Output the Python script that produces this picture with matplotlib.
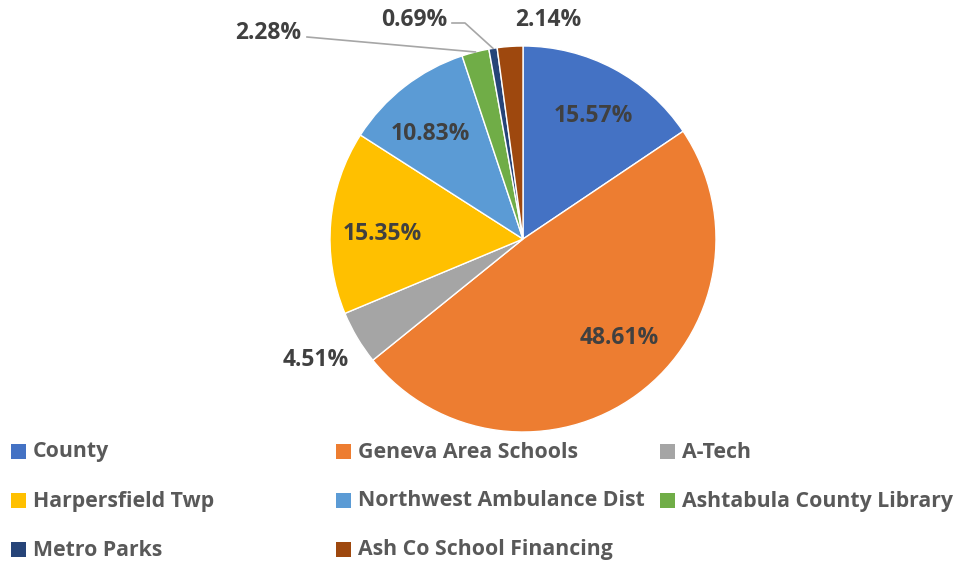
import numpy as np
import matplotlib.pyplot as plt
from matplotlib.patches import Rectangle

# data
categories = ['County', 'Geneva Area Schools', 'A-Tech', 'Harpersfield Twp',
              'Northwest Ambulance Dist', 'Ashtabula County Library',
              'Metro Parks', 'Ash Co School Financing']
shares = [15.57, 48.61, 4.51, 15.35, 10.83, 2.28, 0.69, 2.14]
colors = ['#4472C4', '#ED7D31', '#A5A5A5', '#FFC000',
          '#5B9BD5', '#70AD47', '#264478', '#9E480E']

plt.rcParams['font.family'] = ['Open Sans', 'DejaVu Sans']

W, H = 960, 564
fig = plt.figure(figsize=(W / 100, H / 100), dpi=100)

# pie centre / radius in pixels
cx, cy, r = 523, 239, 193
ax = fig.add_axes([(cx - r) / W, (H - cy - r) / H, 2 * r / W, 2 * r / H])
wedges, _ = ax.pie(shares, colors=colors, startangle=90, counterclock=False,
                   radius=1, wedgeprops=dict(edgecolor='white', linewidth=1))
ax.set_xlim(-1, 1)
ax.set_ylim(-1, 1)
ax.axis('off')

lab_kw = dict(fontsize=16.5, fontweight='bold', color='#404040',
              ha='center', va='center', clip_on=False)

def px(x, y):
    # pixel -> data coords of the pie axes
    return (x - cx) / r, (cy - y) / r

def mid_angle(w):
    return np.deg2rad((w.theta1 + w.theta2) / 2)

# label anchor points (Excel "best fit" placement, in pixels)
label_pos = [(593, 116), (619, 338), (316, 360), (382, 234),
             (430, 134), (268, 33), (414, 20), (548, 20)]
for i, (lx, ly) in enumerate(label_pos):
    ax.text(*px(lx, ly), f'{shares[i]:.2f}%', **lab_kw)

# leader lines for the two thinnest slices
line_kw = dict(color='#A6A6A6', lw=1.2, clip_on=False)
a = mid_angle(wedges[5])
p1 = px(307, 37)
ax.plot([np.cos(a), p1[0]], [np.sin(a), p1[1]], **line_kw)

a = mid_angle(wedges[6])
q1, q2 = px(465, 23), px(452, 23)
ax.plot([np.cos(a), q1[0], q2[0]], [np.sin(a), q1[1], q2[1]], **line_kw)

# legend, three fixed-width columns like Excel
col_x = [11, 336, 660]
row_y = [451, 500, 549]
for i, (name, c) in enumerate(zip(categories, colors)):
    row, col = divmod(i, 3)
    x, y = col_x[col], row_y[row]
    fig.add_artist(Rectangle((x / W, (H - y - 7.5) / H), 15 / W, 15 / H,
                             facecolor=c, edgecolor='none',
                             transform=fig.transFigure))
    fig.text((x + 22) / W, (H - y - 1) / H, name, fontsize=15.3, fontweight='bold',
             color='#595959', ha='left', va='center')

fig.savefig('out.png', dpi=100, facecolor='white')
